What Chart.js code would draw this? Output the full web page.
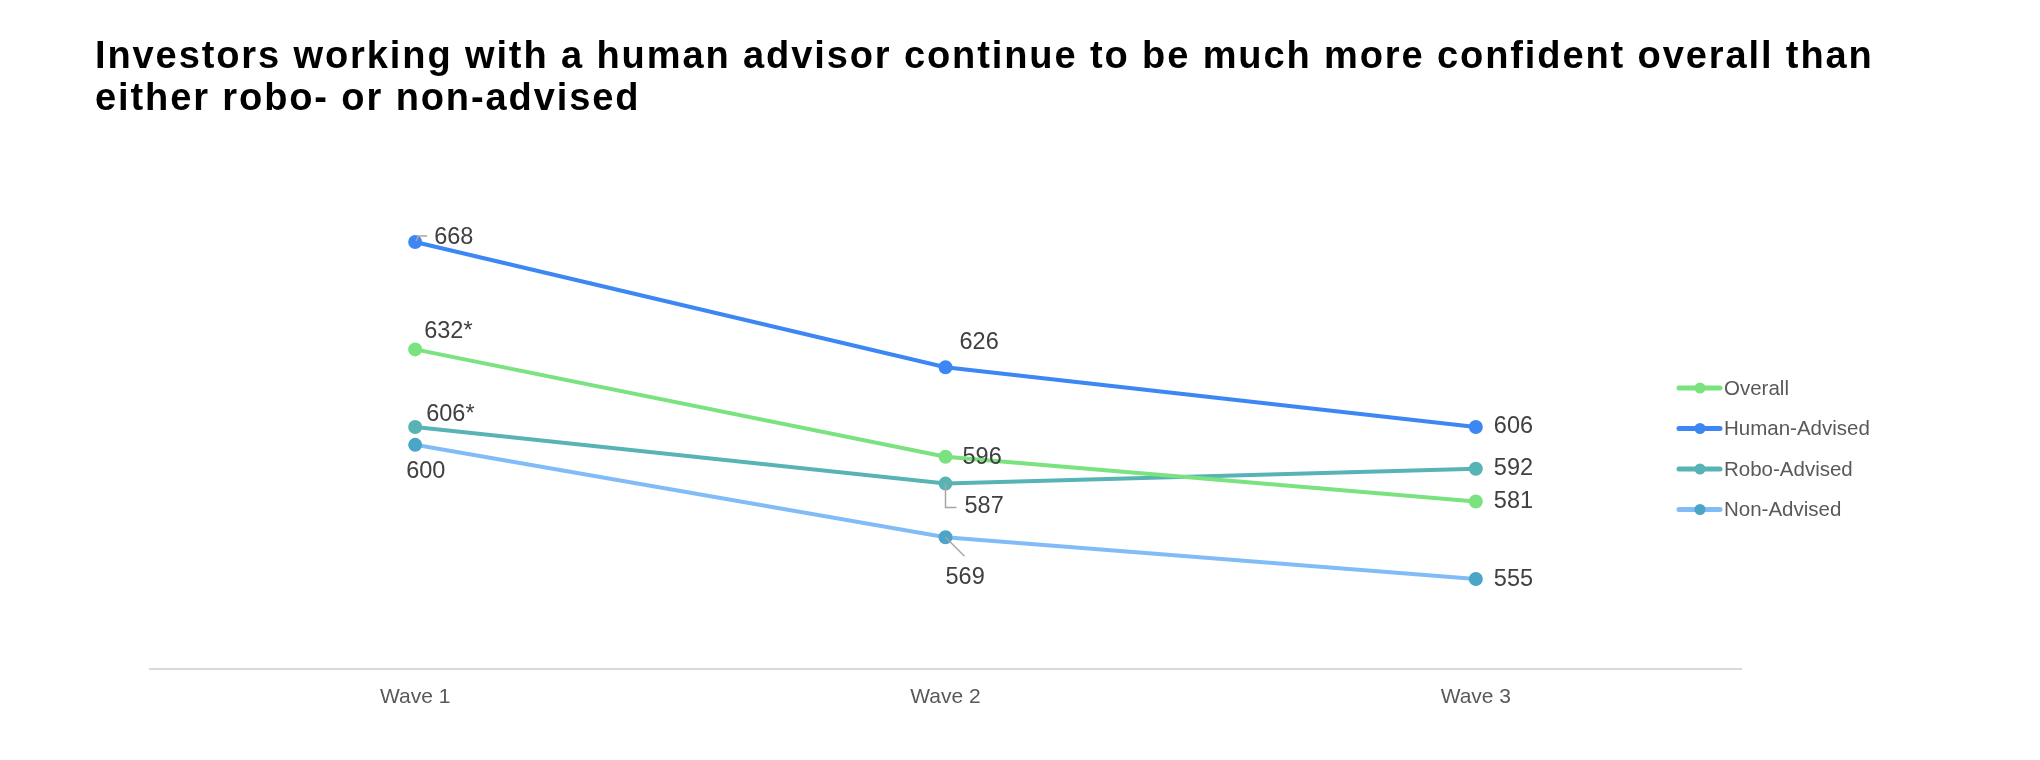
<!DOCTYPE html>
<html>
<head>
<meta charset="utf-8">
<script src="https://cdn.jsdelivr.net/npm/chart.js@4/dist/chart.umd.min.js"></script>
<style>
  html, body { margin: 0; padding: 0; background: #fff; }
  #wrap { position: relative; width: 2040px; height: 760px; }
  #title {
    position: absolute; left: 95px; top: 34px; margin: 0;
    font-family: 'Liberation Sans', Arial, sans-serif;
    font-size: 38px; font-weight: bold; line-height: 42px;
    letter-spacing: 1.9px; color: #000; white-space: nowrap;
  }
</style>
</head>
<body>
<div id="wrap">
  <h1 id="title">Investors working with a human advisor continue to be much more confident overall than<br>either robo- or non-advised</h1>
  <canvas id="chartConfidence"></canvas>
</div>
<script>
const waves = ['Wave 1', 'Wave 2', 'Wave 3']
const seriesNames = ['Overall', 'Human-Advised', 'Robo-Advised', 'Non-Advised']
const overall = [632, 596, 581]
const humanAdvised = [668, 626, 606]
const roboAdvised = [606, 587, 592]
const nonAdvised = [600, 569, 555]
const overallNotes = ['*', '', '']
const roboNotes = ['*', '', '']

const FONT = "'Liberation Sans', Arial, sans-serif"

// label placement (px from the point, left edge / vertical middle of the text)
const labelPos = {
  'Overall': [[9, -18], [17, 1], [18, 0]],
  'Human-Advised': [[19, -5], [14, -25], [18, 0]],
  'Robo-Advised': [[11, -12], [19, 23], [18, 0]],
  'Non-Advised': [[-9, 27], [0, 40], [18, 0]]
}
// little grey connector lines next to some labels
const leaders = {
  'Human-Advised': { 0: [[1, -1], [3, -6], [12, -6]] },
  'Robo-Advised': { 1: [[0, 0], [0, 24], [11, 24]] },
  'Non-Advised': { 1: [[0, 0], [19, 19]] }
}

const pointLabels = {
  id: 'pointLabels',
  afterDatasetsDraw(chart) {
    const ctx = chart.ctx
    chart.data.datasets.forEach((ds, di) => {
      const meta = chart.getDatasetMeta(di)
      meta.data.forEach((pt, i) => {
        const lead = (leaders[ds.label] || {})[i]
        if (lead) {
          ctx.save()
          ctx.strokeStyle = '#a6a6a6'
          ctx.lineWidth = 1.5
          ctx.beginPath()
          lead.forEach((p, k) => {
            if (k === 0) ctx.moveTo(pt.x + p[0], pt.y + p[1])
            else ctx.lineTo(pt.x + p[0], pt.y + p[1])
          })
          ctx.stroke()
          ctx.restore()
        }
        const off = labelPos[ds.label][i]
        const note = ds.notes ? ds.notes[i] : ''
        ctx.save()
        ctx.font = '23.5px ' + FONT
        ctx.fillStyle = '#404040'
        ctx.textAlign = 'left'
        ctx.textBaseline = 'middle'
        ctx.fillText(ds.data[i] + note, pt.x + off[0], pt.y + off[1])
        ctx.restore()
      })
    })
  }
}

const sideLegend = {
  id: 'sideLegend',
  afterDraw(chart) {
    const ctx = chart.ctx
    const x0 = chart.chartArea.right - 64
    const y0 = 388
    chart.data.datasets.forEach((ds, di) => {
      const y = y0 + di * 40.5
      ctx.save()
      ctx.strokeStyle = ds.borderColor
      ctx.lineWidth = 5
      ctx.lineCap = 'round'
      ctx.beginPath()
      ctx.moveTo(x0 + 2, y)
      ctx.lineTo(x0 + 43, y)
      ctx.stroke()
      ctx.fillStyle = ds.pointBackgroundColor
      ctx.beginPath()
      ctx.arc(x0 + 23, y, 5.5, 0, Math.PI * 2)
      ctx.fill()
      ctx.font = '20.5px ' + FONT
      ctx.fillStyle = '#595959'
      ctx.textBaseline = 'middle'
      ctx.fillText(ds.label, x0 + 47, y + 1)
      ctx.restore()
    })
  }
}

function lineSet(label, data, line, point, notes) {
  return {
    label: label,
    data: data,
    notes: notes,
    borderColor: line,
    backgroundColor: line,
    pointBackgroundColor: point,
    pointBorderColor: point,
    borderWidth: 4,
    pointRadius: 5,
    pointHoverRadius: 5,
    tension: 0,
    fill: false
  }
}

const ctx = document.getElementById('chartConfidence').getContext('2d')
const chartConfidence = new Chart(ctx, {
  type: 'line',
  data: {
    labels: waves,
    datasets: [
      lineSet(seriesNames[0], overall, '#7ae27f', '#7ae27f', overallNotes),
      lineSet(seriesNames[1], humanAdvised, '#3c87f3', '#3c87f3'),
      lineSet(seriesNames[2], roboAdvised, '#58b3b5', '#58b3b5', roboNotes),
      lineSet(seriesNames[3], nonAdvised, '#82bcf7', '#4aa5c7')
    ]
  },
  options: {
    responsive: true,
    maintainAspectRatio: false,
    animation: false,
    layout: {
      padding: { left: 95, right: 299, top: 146.6, bottom: 31.5 }
    },
    scales: {
      x: {
        offset: true,
        grid: { display: false, drawTicks: false },
        border: { display: true, color: '#d9d9d9', width: 2 },
        ticks: {
          padding: 16,
          color: '#595959',
          font: { family: FONT, size: 21 }
        },
        afterFit: (s) => { s.height = 60 }
      },
      y: {
        min: 525,
        max: 700,
        grid: { display: false, drawTicks: false },
        border: { display: false },
        ticks: { display: false },
        afterFit: (s) => { s.width = 55 }
      }
    },
    plugins: {
      title: { display: false },
      legend: { display: false },
      tooltip: { enabled: false }
    }
  },
  plugins: [pointLabels, sideLegend]
})
</script>
</body>
</html>
